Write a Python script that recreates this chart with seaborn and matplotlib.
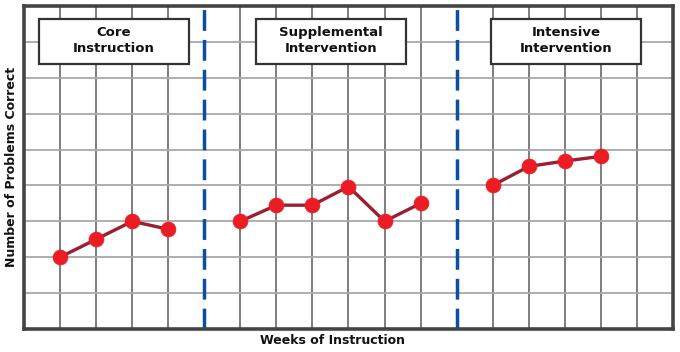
import matplotlib
matplotlib.use("Agg")
import matplotlib.pyplot as plt
import seaborn as sns
import pandas as pd
from matplotlib.patches import Rectangle

sns.set_style("white")
plt.rcParams['font.family'] = ['DejaVu Sans']

# Data
core_weeks = [1, 2, 3, 4]
core_scores = [2.0, 2.5, 3.0, 2.78]
supp_weeks = [6, 7, 8, 9, 10, 11]
supp_scores = [3.0, 3.45, 3.45, 3.97, 3.0, 3.5]
int_weeks = [13, 14, 15, 16]
int_scores = [4.0, 4.53, 4.68, 4.81]
phase_names = ["Core\nInstruction", "Supplemental\nIntervention", "Intensive\nIntervention"]
phase_breaks = [5, 12]
x_label = "Weeks of Instruction"
y_label = "Number of Problems Correct"

df = pd.DataFrame({
    "week": core_weeks + supp_weeks + int_weeks,
    "score": core_scores + supp_scores + int_scores,
    "phase": ["core"] * len(core_weeks) + ["supp"] * len(supp_weeks) + ["int"] * len(int_weeks),
})

fig = plt.figure(figsize=(6.8, 3.52), dpi=100)
ax = fig.add_axes([24 / 680, 1 - 329 / 352, (673 - 24) / 680, (329 - 6) / 352])

ax.set_xlim(0, 18)
ax.set_ylim(0, 9)
ax.set_xticks([w for w in range(1, 18) if w not in phase_breaks])
ax.set_yticks(range(1, 9))
ax.set_xticklabels([])
ax.set_yticklabels([])
ax.tick_params(length=0)
ax.xaxis.grid(True, color="#5a5a5a", linewidth=1.1)
ax.yaxis.grid(True, color="#a8a8a8", linewidth=1.3)
ax.set_axisbelow(True)
for s in ax.spines.values():
    s.set_color("#444444")
    s.set_linewidth(2.6)

for b in phase_breaks:
    ax.axvline(b, color="#0b4f9e", linewidth=2.5, linestyle=(0, (6.0, 2.6)), zorder=2)

sns.lineplot(data=df, x="week", y="score", units="phase", estimator=None,
             color="#9b1f2e", linewidth=2.4, ax=ax, zorder=3, legend=False)
sns.scatterplot(data=df, x="week", y="score", color="#ec1c24", s=115,
                edgecolor="#ec1c24", linewidth=0.5, ax=ax, zorder=4, legend=False)
ax.set_xlabel("")
ax.set_ylabel("")

# Phase label boxes (pixel geometry converted to figure coords)
boxes = [(39, 189), (256, 406), (491, 641)]
for (x0, x1), name in zip(boxes, phase_names):
    y0, y1 = 19, 64
    rect = Rectangle((x0 / 680, 1 - y1 / 352), (x1 - x0) / 680, (y1 - y0) / 352,
                     transform=fig.transFigure, facecolor="white", edgecolor="#333333",
                     linewidth=1.6, zorder=5)
    fig.patches.append(rect)
    fig.text((x0 + x1) / 2 / 680, 1 - (y0 + y1) / 2 / 352 + 0.003, name, ha="center", va="center",
             fontsize=9.5, fontweight="bold", color="#111111", linespacing=1.25, zorder=6)

fig.text(332 / 680, 1 - 341 / 352, x_label, ha="center", va="center",
         fontsize=9, fontweight="bold", color="#111111")
fig.text(12 / 680, 1 - 167 / 352, y_label, ha="center", va="center", rotation=90,
         fontsize=9, fontweight="bold", color="#111111")

fig.savefig("out.png", dpi=100)
